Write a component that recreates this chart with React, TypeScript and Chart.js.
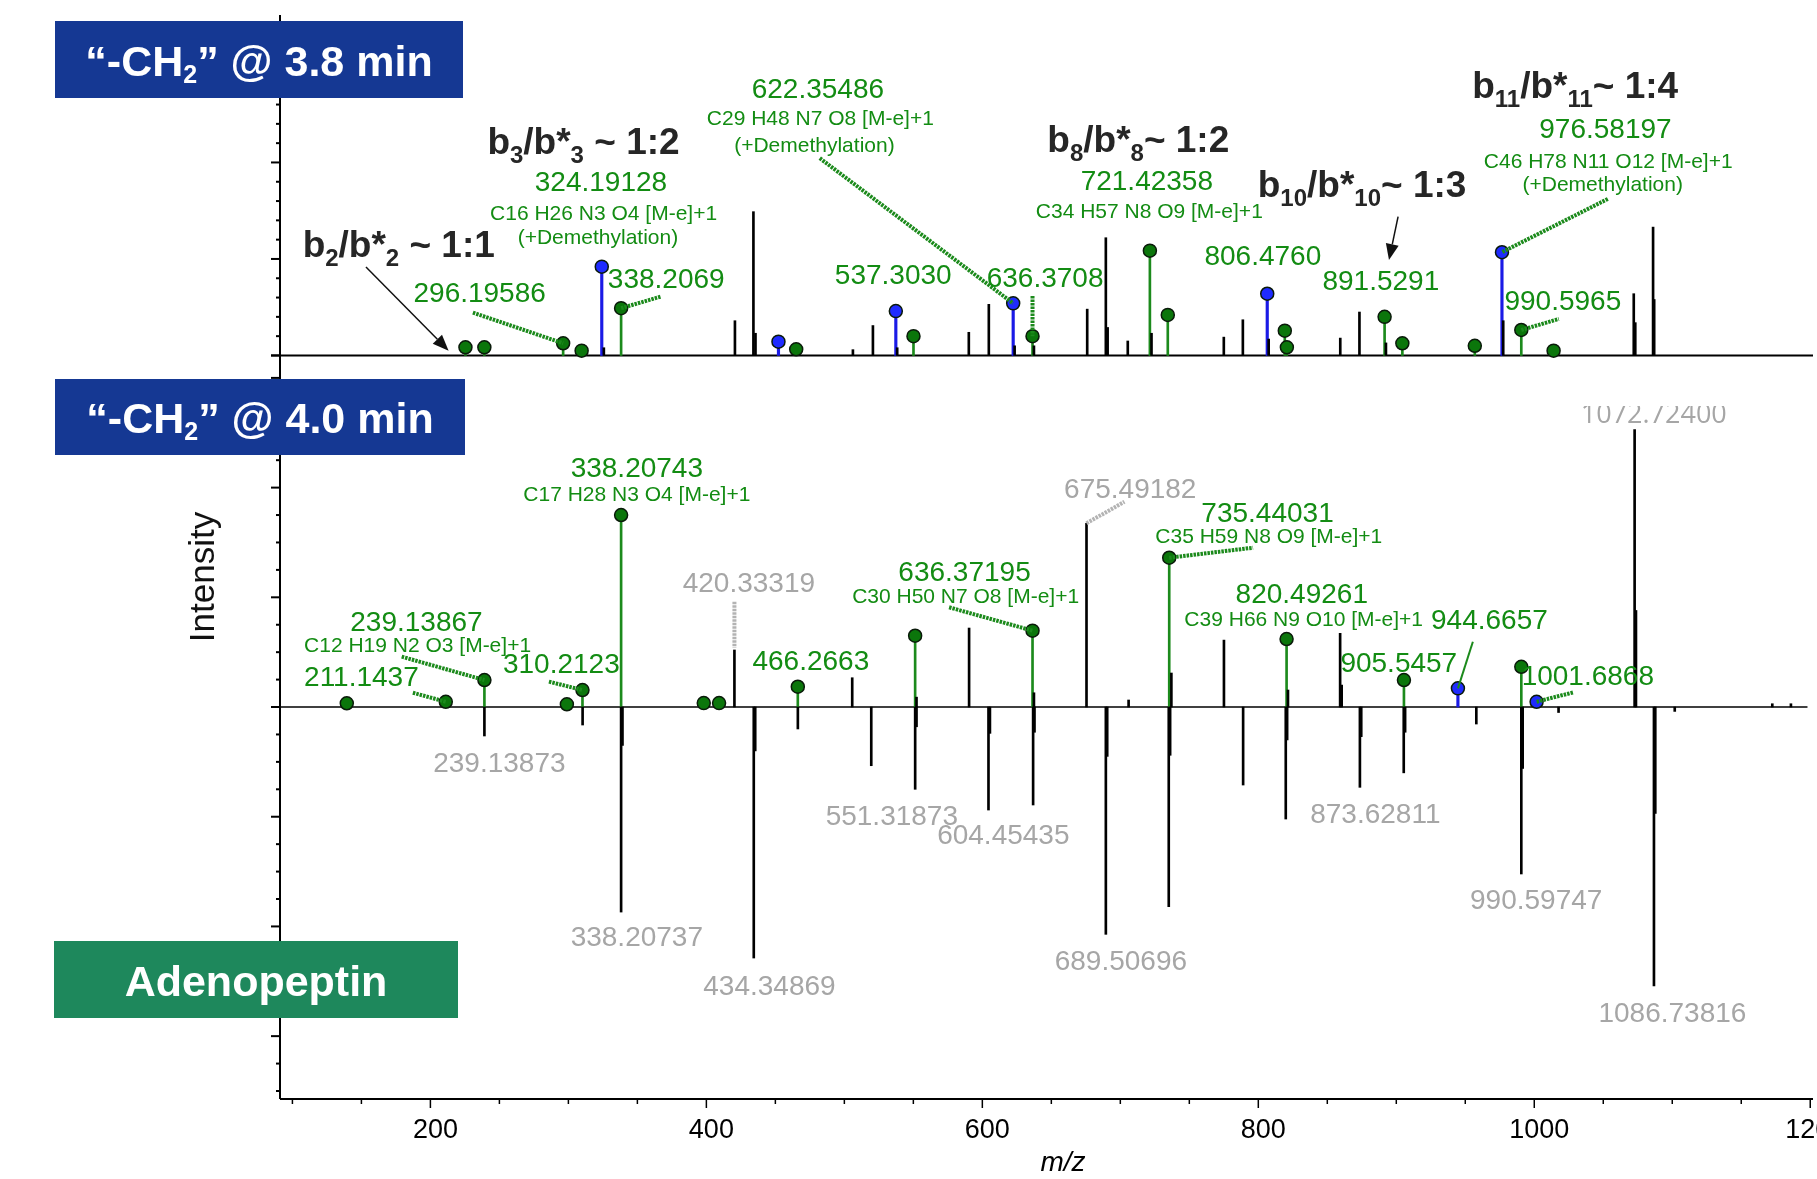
import React, { useEffect, useRef } from 'react';
import { Chart, registerables } from 'chart.js';

Chart.register(...registerables);

// ---------------- DATA ----------------
// Top panel: "-CH2" @ 3.8 min  (intensity, arbitrary units)
const topBlackMz = [325.7, 420.7, 434.1, 435.6, 506.2, 520.7, 538.3, 590.2, 604.7, 623.4, 637.4, 676.0, 689.5, 690.8, 705.4, 722.6, 775.0, 788.8, 807.5, 859.4, 873.3, 892.5, 977.5, 1072.1, 1073.2, 1086.1, 1086.9];
const topBlackInt = [0.08, 0.36, 1.49, 0.23, 0.06, 0.31, 0.08, 0.24, 0.53, 0.1, 0.1, 0.48, 1.22, 0.29, 0.15, 0.23, 0.19, 0.37, 0.17, 0.18, 0.45, 0.13, 0.36, 0.64, 0.34, 1.33, 0.58];
const topGreenMz = [225.4, 239.1, 296.19586, 309.6, 338.2069, 465.1, 550.1, 636.3708, 721.42358, 734.4, 819.2, 820.7, 891.5291, 904.4, 956.9, 990.5965, 1014.0];
const topGreenInt = [0.085, 0.085, 0.126, 0.05, 0.49, 0.064, 0.2, 0.2, 1.086, 0.42, 0.257, 0.085, 0.4, 0.126, 0.1, 0.264, 0.05];
const topBlueMz = [324.19128, 452.25, 537.303, 622.35486, 806.476, 976.58197];
const topBlueInt = [0.92, 0.143, 0.46, 0.54, 0.64, 1.07];

// Bottom panel, upper half: "-CH2" @ 4.0 min
const botBlackMz = [420.33319, 505.7, 552.3, 590.4, 637.4, 675.49182, 706.0, 737.0, 775.1, 821.5, 859.3, 860.4, 1072.724, 1073.7, 1172.5, 1186.0];
const botBlackInt = [0.52, 0.267, 0.09, 0.72, 0.13, 1.675, 0.064, 0.31, 0.61, 0.155, 0.672, 0.2, 2.53, 0.88, 0.03, 0.03];
const botGreenMz = [139.4, 211.1437, 239.13867, 298.9, 310.2123, 338.20743, 398.1, 409.2, 466.2663, 551.3, 636.37195, 735.44031, 820.49261, 905.5457, 990.6];
const botGreenInt = [0.034, 0.048, 0.246, 0.025, 0.155, 1.75, 0.036, 0.036, 0.185, 0.65, 0.696, 1.361, 0.62, 0.246, 0.367];
const botBlueMz = [944.6657, 1001.6868];
const botBlueInt = [0.17, 0.048];

// Bottom panel, mirrored half: Adenopeptin reference
const refMz = [239.13873, 310.3, 338.20737, 339.2, 434.34869, 435.4, 466.3, 519.5, 551.31873, 552.3, 604.45435, 605.5, 636.8, 637.8, 689.50696, 690.5, 735.1, 736.1, 789.0, 819.9, 820.9, 873.62811, 874.6, 905.4, 906.4, 958.0, 990.59747, 991.6, 1017.6, 1086.73816, 1087.7, 1101.8];
const refInt = [-0.264, -0.164, -1.869, -0.35, -2.288, -0.4, -0.2, -0.535, -0.75, -0.18, -0.939, -0.24, -0.893, -0.23, -2.072, -0.45, -1.82, -0.44, -0.711, -1.021, -0.3, -0.732, -0.27, -0.6, -0.23, -0.155, -1.522, -0.56, -0.05, -2.543, -0.97, -0.04];

// Axis tick labels
const xTickLabels = [200, 400, 600, 800, 1000, 1200];

// ---------------- ANNOTATIONS (anchored in data coordinates) ----------------
type Panel = 'T' | 'B';
const numberLabels: [string, Panel, number, number][] = [
  ['324.19128', 'T', 323.6, 1.788],
  ['296.19586', 'T', 235.7, 0.637],
  ['338.2069', 'T', 370.9, 0.782],
  ['537.3030', 'T', 535.4, 0.819],
  ['636.3708', 'T', 645.5, 0.793],
  ['622.35486', 'T', 480.8, 2.746],
  ['721.42358', 'T', 719.2, 1.798],
  ['806.4760', 'T', 803.3, 1.021],
  ['891.5291', 'T', 888.8, 0.762],
  ['976.58197', 'T', 1051.6, 2.337],
  ['990.5965', 'T', 1020.7, 0.554],
  ['338.20743', 'B', 349.6, 2.165],
  ['239.13867', 'B', 189.9, 0.766],
  ['211.1437', 'B', 150.0, 0.264],
  ['310.2123', 'B', 294.9, 0.383],
  ['466.2663', 'B', 475.7, 0.41],
  ['636.37195', 'B', 587.1, 1.222],
  ['735.44031', 'B', 806.7, 1.759],
  ['820.49261', 'B', 831.5, 1.021],
  ['905.5457', 'B', 901.8, 0.392],
  ['944.6657', 'B', 967.5, 0.784],
  ['1001.6868', 'B', 1038.8, 0.273],
];
const formulaLabels: [string, Panel, number, number][] = [
  ['C16 H26 N3 O4 [M-e]+1', 'T', 325.5, 1.461],
  ['(+Demethylation)', 'T', 321.4, 1.218],
  ['C29 H48 N7 O8 [M-e]+1', 'T', 482.6, 2.446],
  ['(+Demethylation)', 'T', 478.3, 2.171],
  ['C34 H57 N8 O9 [M-e]+1', 'T', 721.0, 1.487],
  ['C46 H78 N11 O12 [M-e]+1', 'T', 1053.6, 2.005],
  ['(+Demethylation)', 'T', 1049.6, 1.767],
  ['C17 H28 N3 O4 [M-e]+1', 'B', 349.6, 1.933],
  ['C12 H19 N2 O3 [M-e]+1', 'B', 190.7, 0.556],
  ['C30 H50 N7 O8 [M-e]+1', 'B', 587.9, 0.998],
  ['C35 H59 N8 O9 [M-e]+1', 'B', 807.6, 1.545],
  ['C39 H66 N9 O10 [M-e]+1', 'B', 832.9, 0.793],
];
const grayLabels: [string, number, number][] = [
  ['239.13873', 250.0, -0.52],
  ['338.20737', 349.6, -2.106],
  ['434.34869', 445.7, -2.552],
  ['551.31873', 534.4, -1.003],
  ['604.45435', 615.2, -1.176],
  ['689.50696', 700.4, -2.325],
  ['873.62811', 884.8, -0.985],
  ['990.59747', 1001.4, -1.768],
  ['1086.73816', 1100.1, -2.799],
  ['420.33319', 430.8, 1.121],
  ['675.49182', 707.2, 1.978],
];
const clippedLabel: [string, number, number, number] = ['1072.72400', 1086.6, 2.662, 2.744];

// ratio labels: parts [text, isSubscript]
const ratioLabels: { parts: [string, boolean][]; mz: number; v: number }[] = [
  { parts: [['b', false], ['2', true], ['/b*', false], ['2', true], [' ~ 1:1', false]], mz: 107.4, v: 1.018 },
  { parts: [['b', false], ['3', true], ['/b*', false], ['3', true], [' ~ 1:2', false]], mz: 241.3, v: 2.088 },
  { parts: [['b', false], ['8', true], ['/b*', false], ['8', true], ['~ 1:2', false]], mz: 647.1, v: 2.112 },
  { parts: [['b', false], ['10', true], ['/b*', false], ['10', true], ['~ 1:3', false]], mz: 799.6, v: 1.646 },
  { parts: [['b', false], ['11', true], ['/b*', false], ['11', true], ['~ 1:4', false]], mz: 955.0, v: 2.665 },
];

// leaders: panel, from [mz, v], to [mz, v], style
const leaders: [Panel, number, number, number, number, 'dot' | 'solid' | 'gray'][] = [
  ['T', 230.8, 0.444, 296.19586, 0.126, 'dot'],
  ['T', 338.2069, 0.49, 366.8, 0.609, 'dot'],
  ['T', 482.2, 2.044, 622.35486, 0.54, 'dot'],
  ['T', 636.3708, 0.617, 636.3708, 0.2, 'dot'],
  ['T', 1053.3, 1.622, 976.58197, 1.07, 'dot'],
  ['T', 990.5965, 0.264, 1017.8, 0.378, 'dot'],
  ['B', 187.3, 0.13, 211.1437, 0.048, 'dot'],
  ['B', 179.2, 0.459, 239.13867, 0.246, 'dot'],
  ['B', 285.9, 0.231, 310.2123, 0.155, 'dot'],
  ['B', 575.9, 0.909, 636.37195, 0.696, 'dot'],
  ['B', 735.44031, 1.361, 796.2, 1.452, 'dot'],
  ['B', 955.5, 0.595, 944.6657, 0.17, 'solid'],
  ['B', 1001.6868, 0.048, 1028.4, 0.134, 'dot'],
  ['B', 420.33319, 0.96, 420.33319, 0.54, 'gray'],
  ['B', 675.49182, 1.675, 703.0, 1.871, 'gray'],
];
const arrows: [Panel, number, number, number, number][] = [
  ['T', 153.3, 0.917, 213.2, 0.05],
  ['T', 901.3, 1.438, 894.7, 0.989],
];

// ---------------- STYLE ----------------
const FONT = "'Liberation Sans', Arial, sans-serif";
const GREEN_TXT = '#138c13';
const GREEN_STEM = '#1c8a1c';
const GREEN_DOT = '#0b760b';
const DOT_EDGE = '#0a1a0a';
const BLUE_STEM = '#1a1ae6';
const BLUE_DOT = '#1f2bff';
const GRAY_TXT = '#a6a6a6';
const DARK = '#262626';
const BOX_BLUE = '#153893';
const BOX_GREEN = '#1e885c';

const pts = (mz: number[], v: number[]) => mz.map((m, i) => ({ x: m, y: v[i] }));

function drawRich(ctx: CanvasRenderingContext2D, parts: [string, boolean][], x: number, y: number,
  size: number, subSize: number, drop: number, align: 'left' | 'center', color: string) {
  const fm = `bold ${size}px ${FONT}`;
  const fs = `bold ${subSize}px ${FONT}`;
  let total = 0;
  for (const [t, s] of parts) { ctx.font = s ? fs : fm; total += ctx.measureText(t).width; }
  let cx = align === 'center' ? x - total / 2 : x;
  ctx.textAlign = 'left';
  ctx.textBaseline = 'alphabetic';
  ctx.fillStyle = color;
  for (const [t, s] of parts) {
    ctx.font = s ? fs : fm;
    ctx.fillText(t, cx, s ? y + drop : y);
    cx += ctx.measureText(t).width;
  }
}

const decorPlugin = {
  id: 'msDecor',
  beforeDatasetsDraw(chart: any) {
    const ctx: CanvasRenderingContext2D = chart.ctx;
    const { left, right, top, bottom } = chart.chartArea;
    const x = chart.scales.x, yT = chart.scales.yT, yB = chart.scales.yB;
    const line = (x1: number, y1: number, x2: number, y2: number) => {
      ctx.beginPath(); ctx.moveTo(x1, y1); ctx.lineTo(x2, y2); ctx.stroke();
    };
    ctx.save();
    ctx.strokeStyle = '#000';
    ctx.lineWidth = 2;
    line(left, top, left, bottom);
    // top panel y ticks
    for (let i = 0; i <= 17; i++) {
      const y = yT.getPixelForValue(i * 0.2);
      line(left - (i % 5 === 0 ? 9 : 4), y, left, y);
    }
    // bottom panel y ticks
    for (let i = -14; i <= 12; i++) {
      const y = yB.getPixelForValue(i * 0.25);
      line(left - (i % 4 === 0 ? 9 : 4), y, left, y);
    }
    // baselines
    const y0 = yT.getPixelForValue(0);
    line(left - 9, y0, right, y0);
    ctx.lineWidth = 1.5;
    const yb0 = yB.getPixelForValue(0);
    line(left, yb0, x.getPixelForValue(1198), yb0);
    // x axis
    ctx.lineWidth = 2;
    line(left, bottom, right, bottom);
    ctx.lineWidth = 1.5;
    for (let m = 100; m <= 1200; m += 50) {
      const px = x.getPixelForValue(m);
      line(px, bottom, px, bottom + (m % 200 === 0 ? 9 : 5));
    }
    ctx.fillStyle = '#000';
    ctx.font = `27px ${FONT}`;
    ctx.textAlign = 'center';
    ctx.textBaseline = 'middle';
    for (const t of xTickLabels) ctx.fillText(String(t), x.getPixelForValue(t) + 5, bottom + 32);
    ctx.font = `italic 28px ${FONT}`;
    ctx.fillText('m/z', 1063, bottom + 64);
    ctx.save();
    ctx.translate(204, 577);
    ctx.rotate(-Math.PI / 2);
    ctx.font = `35px ${FONT}`;
    ctx.fillStyle = '#111';
    ctx.fillText('Intensity', 0, 0);
    ctx.restore();
    ctx.restore();
  },
  afterDatasetsDraw(chart: any) {
    const ctx: CanvasRenderingContext2D = chart.ctx;
    const x = chart.scales.x, yT = chart.scales.yT, yB = chart.scales.yB;
    const py = (p: Panel, v: number) => (p === 'T' ? yT : yB).getPixelForValue(v);
    ctx.save();
    // leaders
    for (const [p, m1, v1, m2, v2, st] of leaders) {
      ctx.beginPath();
      ctx.moveTo(x.getPixelForValue(m1), py(p, v1));
      ctx.lineTo(x.getPixelForValue(m2), py(p, v2));
      if (st === 'solid') { ctx.setLineDash([]); ctx.lineWidth = 2; ctx.strokeStyle = GREEN_STEM; }
      else { ctx.setLineDash([2.5, 1]); ctx.lineWidth = 4; ctx.strokeStyle = st === 'gray' ? '#b3b3b3' : GREEN_STEM; }
      ctx.stroke();
    }
    ctx.setLineDash([]);
    // arrows
    for (const [p, m1, v1, m2, v2] of arrows) {
      const x1 = x.getPixelForValue(m1), y1 = py(p, v1), x2 = x.getPixelForValue(m2), y2 = py(p, v2);
      const a = Math.atan2(y2 - y1, x2 - x1);
      const hl = 16, hw = 6.5;
      const bx = x2 - hl * Math.cos(a), by = y2 - hl * Math.sin(a);
      ctx.strokeStyle = '#111'; ctx.fillStyle = '#111'; ctx.lineWidth = 1.5;
      ctx.beginPath(); ctx.moveTo(x1, y1); ctx.lineTo(bx, by); ctx.stroke();
      ctx.beginPath();
      ctx.moveTo(x2, y2);
      ctx.lineTo(bx + hw * Math.sin(a), by - hw * Math.cos(a));
      ctx.lineTo(bx - hw * Math.sin(a), by + hw * Math.cos(a));
      ctx.closePath(); ctx.fill();
    }
    // text labels
    ctx.textAlign = 'center';
    ctx.textBaseline = 'middle';
    ctx.fillStyle = GREEN_TXT;
    ctx.font = `28px ${FONT}`;
    for (const [t, p, m, v] of numberLabels) ctx.fillText(t, x.getPixelForValue(m), py(p, v));
    ctx.font = `21px ${FONT}`;
    for (const [t, p, m, v] of formulaLabels) ctx.fillText(t, x.getPixelForValue(m), py(p, v));
    ctx.fillStyle = GRAY_TXT;
    ctx.font = `28px ${FONT}`;
    for (const [t, m, v] of grayLabels) ctx.fillText(t, x.getPixelForValue(m), yB.getPixelForValue(v));
    ctx.save();
    const clipY = yB.getPixelForValue(clippedLabel[3]);
    ctx.beginPath(); ctx.rect(0, clipY, chart.width, chart.height - clipY); ctx.clip();
    ctx.font = `27px 'Open Sans', ${FONT}`;
    ctx.fillText(clippedLabel[0], x.getPixelForValue(clippedLabel[1]), yB.getPixelForValue(clippedLabel[2]));
    ctx.restore();
    for (const r of ratioLabels) drawRich(ctx, r.parts, x.getPixelForValue(r.mz), yT.getPixelForValue(r.v), 37, 24, 9, 'left', DARK);
    // title boxes
    const box = (bx: number, by: number, w: number, h: number, color: string, parts: [string, boolean][]) => {
      ctx.fillStyle = color;
      ctx.fillRect(bx, by, w, h);
      drawRich(ctx, parts, bx + w / 2, by + h / 2 + 16, 43, 25, 7, 'center', '#ffffff');
    };
    box(55, 21, 408, 77, BOX_BLUE, [['\u201C-CH', false], ['2', true], ['\u201D @ 3.8 min', false]]);
    box(55, 379, 410, 76, BOX_BLUE, [['\u201C-CH', false], ['2', true], ['\u201D @ 4.0 min', false]]);
    box(54, 941, 404, 77, BOX_GREEN, [['Adenopeptin', false]]);
    ctx.restore();
  },
};

export default function App() {
  const ref = useRef<HTMLCanvasElement | null>(null);
  useEffect(() => {
    document.body.style.margin = '0';
    const canvas = ref.current;
    if (!canvas) return;
    const stem = (data: any[], yAxisID: string, color: string, w: number) => ({
      type: 'bar' as const, data, yAxisID, backgroundColor: color, borderWidth: 0,
      barThickness: w, grouped: false, order: 2,
    });
    const dots = (data: any[], yAxisID: string, color: string) => ({
      type: 'scatter' as const, data, yAxisID, showLine: false, pointRadius: 6.5,
      pointBackgroundColor: color, pointBorderColor: DOT_EDGE, pointBorderWidth: 1.5, order: 0,
    });
    const chart = new Chart(canvas, {
      type: 'bar',
      data: {
        datasets: [
          stem(pts(topBlackMz, topBlackInt), 'yT', '#000', 2),
          stem(pts(topGreenMz, topGreenInt), 'yT', GREEN_STEM, 2),
          stem(pts(topBlueMz, topBlueInt), 'yT', BLUE_STEM, 2.5),
          stem(pts(botBlackMz, botBlackInt), 'yB', '#000', 2),
          stem(pts(refMz, refInt), 'yB', '#000', 2),
          stem(pts(botGreenMz, botGreenInt), 'yB', GREEN_STEM, 2),
          stem(pts(botBlueMz, botBlueInt), 'yB', BLUE_STEM, 2.5),
          dots(pts(topGreenMz, topGreenInt), 'yT', GREEN_DOT),
          dots(pts(topBlueMz, topBlueInt), 'yT', BLUE_DOT),
          dots(pts(botGreenMz, botGreenInt), 'yB', GREEN_DOT),
          dots(pts(botBlueMz, botBlueInt), 'yB', BLUE_DOT),
        ] as any,
      },
      options: {
        responsive: false,
        animation: false,
        events: [],
        layout: { autoPadding: false, padding: { left: 280, right: 4, top: 15, bottom: 80 } },
        plugins: { legend: { display: false }, tooltip: { enabled: false }, title: { display: false } },
        scales: {
          x: { type: 'linear', min: 91, max: 1202, offset: false, display: false, grid: { offset: false } },
          yT: { type: 'linear', min: -7.705, max: 3.528, display: false },
          yB: { type: 'linear', min: -3.573, max: 6.308, display: false },
        },
      } as any,
      plugins: [decorPlugin],
    });
    return () => chart.destroy();
  }, []);
  return (
    <div style={{ position: 'fixed', left: 0, top: 0, width: 1817, height: 1179, background: '#fff' }}>
      <canvas ref={ref} width={1817} height={1179} style={{ display: 'block' }} />
    </div>
  );
}
